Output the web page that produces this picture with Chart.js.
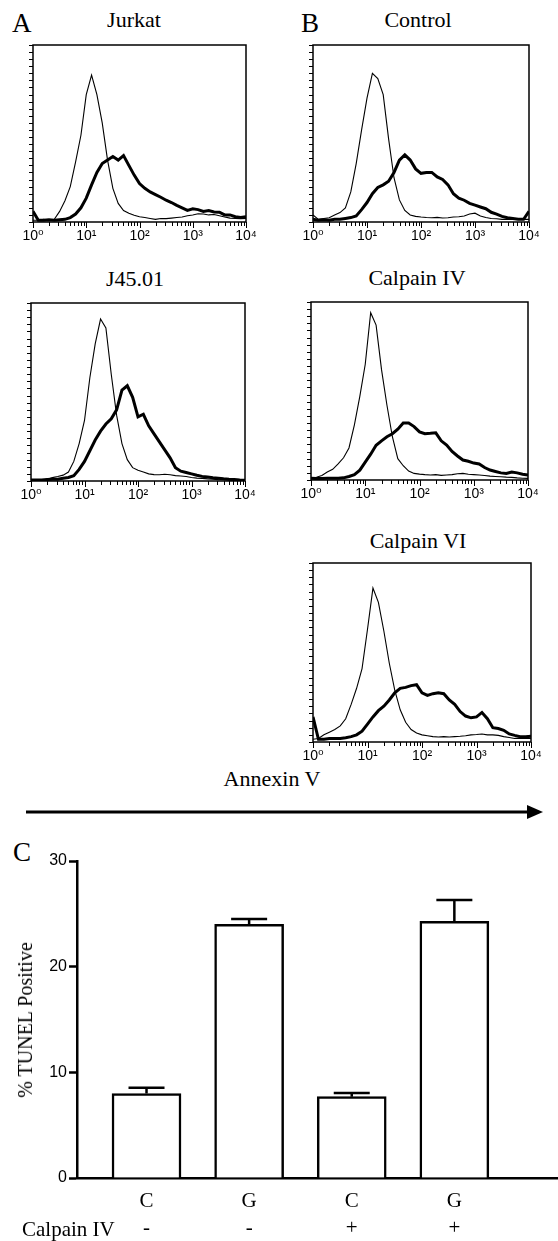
<!DOCTYPE html>
<html>
<head>
<meta charset="utf-8">
<script src="https://cdn.jsdelivr.net/npm/chart.js@4"></script>
<style>
body { margin: 0; background: #fff; width: 558px; height: 1241px; position: relative; overflow: hidden;
       font-family: "Liberation Serif", "Times New Roman", serif; color: #000; }
canvas { position: absolute; }
.serif { font-family: "Liberation Serif", "Times New Roman", serif; font-weight: normal; }
.title { position: absolute; font-size: 22px; line-height: 1; white-space: nowrap; transform: translateX(-50%); }
.letter { position: absolute; font-size: 27px; line-height: 1; }
</style>
</head>
<body>

<div class="letter serif" style="left:12px;top:10px">A</div>
<div class="letter serif" style="left:301px;top:10px">B</div>
<div class="title serif" style="left:134px;top:9px">Jurkat</div>
<div class="title serif" style="left:418px;top:9px">Control</div>
<div class="title serif" style="left:135px;top:268px">J45.01</div>
<div class="title serif" style="left:417px;top:267px">Calpain IV</div>
<div class="title serif" style="left:418px;top:530px">Calpain VI</div>

<canvas id="histJurkat" style="left:18px;top:41px;width:240px;height:203px"></canvas>
<canvas id="histControl" style="left:298px;top:41px;width:243px;height:203px"></canvas>
<canvas id="histJ45" style="left:16px;top:299px;width:241px;height:204px"></canvas>
<canvas id="histCalpIV" style="left:296px;top:298px;width:244px;height:204px"></canvas>
<canvas id="histCalpVI" style="left:298px;top:559px;width:245px;height:205px"></canvas>

<div class="title serif" style="left:272px;top:768px">Annexin V</div>
<svg style="position:absolute;left:0;top:800px" width="558" height="24">
  <line x1="26" y1="12" x2="530" y2="12" stroke="#000" stroke-width="3"/>
  <polygon points="527,5 543,12 527,19" fill="#000"/>
</svg>

<div class="letter serif" style="left:13px;top:839px">C</div>
<canvas id="barChart" style="left:0;top:840px;width:558px;height:401px"></canvas>
<div class="serif" style="position:absolute;left:25px;top:1020px;font-size:20px;line-height:1;white-space:nowrap;transform:translate(-50%,-50%) rotate(-90deg)">% TUNEL Positive</div>
<div class="serif" style="position:absolute;left:22px;top:1219px;font-size:21px;line-height:1;white-space:nowrap">Calpain IV</div>

<script>
// histogram bins, position in decades (10^0 .. 10^4)
const logBins = [0,0.1,0.2,0.3,0.4,0.5,0.6,0.7,0.8,0.9,1,1.1,1.2,1.3,1.4,1.5,1.6,1.7,1.8,1.9,2,
                 2.1,2.2,2.3,2.4,2.5,2.6,2.7,2.8,2.9,3,3.1,3.2,3.3,3.4,3.5,3.6,3.7,3.8,3.9,4];
const decadeLabels = ['10\u2070','10\u00b9','10\u00b2','10\u00b3','10\u2074'];

// counts, % of panel height (thin = unstained, thick = Annexin V)
const jurkatThin  = [1,1,1.5,1,1.5,6,12,20,34,49,72,83,72,56,35,19,10.5,6.5,5,3.8,3,2.5,2,1.5,2,1.9,2.2,2.5,2.8,3.5,4,4.7,4.5,4,4.2,3.5,2.8,2.2,2,1.9,2];
const jurkatThick = [6,1,1,1.2,1,1.3,1.5,2.5,4.5,8,13.5,21,28,33,35,37,35,37.5,32,26.5,21.7,19,17,15.5,14,12.3,11,9.4,8,6.6,7.5,7,6,6.5,5.7,5.5,4,4,3,2.5,3];
const controlThin  = [4,1.5,2,2.4,4,5.3,8,17,33,52,70,84,81,72,47,25,12.5,6.5,4,3.2,2.8,2.5,2.4,2.6,2.3,2.4,2.8,3,3.4,4.5,5,3.4,2.5,2,1.8,1.5,1.5,1.5,1.5,1.5,1.5];
const controlThick = [1.5,1,1.2,1,1.5,1.5,2,2.5,3.4,7,11,16,19.5,21,23,28,35,37.9,35,30,27.5,28,28,25.5,24,21,16,13.5,12.3,10.5,9.5,8.5,7.5,5.5,4.5,3.2,2.4,2,1.5,1.5,6];
const j45Thin  = [0.5,0.5,0.5,1,1.9,2.5,3.3,5,11,21,34,58,77,91,86,60,37,21,12,7.5,6,5,4,3.6,3.5,3.8,3.5,3,2.8,2.5,2,1.6,1.5,1.2,1,0.8,0.7,0.6,0.5,0.5,0.4];
const j45Thick = [0.5,0.5,0.5,0.8,1,1,1.5,2,3,6.5,11,17,23,28,32,35,40,51,53.5,47,36,37.5,31,26.5,22,17.5,13,7.5,5.5,4.8,4,3.2,2.6,2.2,1.8,1.5,1.2,1,0.9,0.6,0.4];
const calpIVThin  = [1,1.5,2.5,4.5,6,9,12.5,18,31,47,65,94,87,62,42,24.3,12,8,5,3.7,3.3,3,2.8,3,2.6,2.8,3,3.5,3.7,3.2,3,2.8,2.5,2.2,2,1.8,1.6,1.5,1.2,1,0.9];
const calpIVThick = [1,0.8,0.8,1,1,1,1.2,2,3,5.5,10,14.5,19.5,22,24.3,26,28.5,32,32,30,27,26,26.2,26.5,22,19.6,16,13.5,11.2,10.5,9.5,9,7,5.6,4.8,4,3.7,4.5,4,3.2,2.8];
const calpVIThin  = [1.5,2,4,5.5,7,9,13,21,30,41,63,86,78,62,44,29,18,11,7,5,4,3.5,3,2.8,3,2.8,3,3.2,3.5,4,4.2,4.5,4,4,3.7,3,2.5,2,2,2,2];
const calpVIThick = [14,1.5,1.5,1.9,2,2,2.4,3,4,6,10,14,17.5,20,23.5,27.5,30,30.5,31.5,32,27.5,26,27,27.5,27,23.5,21,17,14.5,13.5,14,16.5,13,8,7.5,6.5,4.5,3.7,3,3,3.2];

// TUNEL bar chart
const groups = ['C', 'G', 'C', 'G'];
const calpainIV = ['-', '-', '+', '+'];
const tunelMean = [8.0, 24.0, 7.7, 24.3];
const tunelErr = [0.55, 0.5, 0.35, 2.0];
const tunelTicks = [0, 10, 20, 30];

const sansFont = '"Liberation Sans", Arial, "DejaVu Sans", sans-serif';
const serifFont = '"Liberation Serif", "Times New Roman", serif';

function isDecade(v) {
    const e = Math.round(Math.log10(v));
    return Math.abs(Math.pow(10, e) - v) < 1e-6;
}

// box round the plot plus the small outside tick marks of both axes
const frame = {
    id: 'frame',
    afterDraw(chart) {
        const a = chart.chartArea, ctx = chart.ctx;
        const xs = chart.scales.x, ys = chart.scales.y;
        ctx.save();
        ctx.strokeStyle = '#000';
        ctx.lineWidth = 1;
        ctx.beginPath();
        ys.ticks.forEach(t => {
            const y = Math.round(ys.getPixelForValue(t.value)) + 0.5;
            ctx.moveTo(a.left - 4, y);
            ctx.lineTo(a.left, y);
        });
        xs.ticks.forEach(t => {
            const x = Math.round(xs.getPixelForValue(t.value)) + 0.5;
            ctx.moveTo(x, a.bottom);
            ctx.lineTo(x, a.bottom + (isDecade(t.value) ? 6 : 4));
        });
        ctx.stroke();
        ctx.lineWidth = 1.5;
        ctx.strokeRect(a.left, a.top, a.right - a.left, a.bottom - a.top);
        ctx.restore();
    }
};

function toPoints(vals) {
    return vals.map((v, i) => ({ x: Math.pow(10, logBins[i]), y: v }));
}

function makeHist(id, thin, thick) {
    new Chart(document.getElementById(id), {
        type: 'line',
        data: {
            datasets: [
                { data: toPoints(thin), borderColor: '#000', borderWidth: 1.1, pointRadius: 0, tension: 0 },
                { data: toPoints(thick), borderColor: '#000', borderWidth: 3, pointRadius: 0, tension: 0 }
            ]
        },
        options: {
            responsive: false,
            animation: false,
            layout: { padding: { left: 10, right: 12, top: 4, bottom: 0 } },
            plugins: { legend: { display: false }, tooltip: { enabled: false } },
            scales: {
                x: {
                    type: 'logarithmic', min: 1, max: 10000,
                    afterBuildTicks: s => {
                        const t = [];
                        for (let d = 0; d < 4; d++)
                            for (let m = 1; m < 10; m++) t.push({ value: m * Math.pow(10, d) });
                        t.push({ value: 10000 });
                        s.ticks = t;
                    },
                    afterFit: s => { s.height = 22; },
                    grid: { drawOnChartArea: false, drawTicks: true, tickLength: 5, color: 'rgba(0,0,0,0)' },
                    border: { display: false },
                    ticks: {
                        autoSkip: false, maxRotation: 0, padding: 1, color: '#000',
                        font: { family: sansFont, size: 14 },
                        callback: v => isDecade(v) ? decadeLabels[Math.round(Math.log10(v))] : ''
                    }
                },
                y: {
                    min: 0, max: 100,
                    afterBuildTicks: s => {
                        const t = [];
                        for (let v = 0; v <= 100; v += 4) t.push({ value: v });
                        s.ticks = t;
                    },
                    afterFit: s => { s.width = 5; },
                    grid: { display: false },
                    border: { display: false },
                    ticks: { display: false, autoSkip: false }
                }
            }
        },
        plugins: [frame]
    });
}

makeHist('histJurkat', jurkatThin, jurkatThick);
makeHist('histControl', controlThin, controlThick);
makeHist('histJ45', j45Thin, j45Thick);
makeHist('histCalpIV', calpIVThin, calpIVThick);
makeHist('histCalpVI', calpVIThin, calpVIThick);

const errorBars = {
    id: 'errorBars',
    afterDatasetsDraw(chart) {
        const xs = chart.scales.x, ys = chart.scales.y, ctx = chart.ctx;
        ctx.save();
        ctx.strokeStyle = '#000';
        ctx.lineWidth = 2.5;
        tunelMean.forEach((m, i) => {
            const x = xs.getPixelForValue(i + 1);
            const y0 = ys.getPixelForValue(m);
            const y1 = ys.getPixelForValue(m + tunelErr[i]);
            ctx.beginPath();
            ctx.moveTo(x, y0);
            ctx.lineTo(x, y1);
            ctx.moveTo(x - 18, y1);
            ctx.lineTo(x + 18, y1);
            ctx.stroke();
        });
        ctx.restore();
    }
};

new Chart(document.getElementById('barChart'), {
    type: 'bar',
    data: {
        datasets: [{
            data: tunelMean.map((v, i) => ({ x: i + 1, y: v })),
            backgroundColor: '#fff',
            borderColor: '#000',
            borderWidth: 2.5,
            barThickness: 69
        }]
    },
    options: {
        responsive: false,
        animation: false,
        layout: { padding: { left: 0, right: 0, top: 21, bottom: 0 } },
        plugins: { legend: { display: false }, tooltip: { enabled: false } },
        scales: {
            x: {
                type: 'linear', min: 0.3226, max: 5.01, offset: false,
                afterBuildTicks: s => { s.ticks = groups.map((g, i) => ({ value: i + 1 })); },
                afterFit: s => { s.height = 63; },
                grid: { display: false },
                border: { color: '#000', width: 2.5 },
                ticks: {
                    autoSkip: false, maxRotation: 0, padding: 2, color: '#000',
                    font: { family: serifFont, size: 21, lineHeight: 1.3 },
                    callback: (v) => [groups[v - 1], calpainIV[v - 1]]
                }
            },
            y: {
                min: 0, max: 30,
                afterBuildTicks: s => { s.ticks = tunelTicks.map(v => ({ value: v })); },
                afterFit: s => { s.width = 77; },
                grid: { drawOnChartArea: false, tickLength: 8, tickColor: '#000', tickWidth: 2.5 },
                border: { color: '#000', width: 2.5 },
                ticks: { padding: 2, color: '#000', font: { family: sansFont, size: 16 } }
            }
        }
    },
    plugins: [errorBars]
});
</script>
</body>
</html>
